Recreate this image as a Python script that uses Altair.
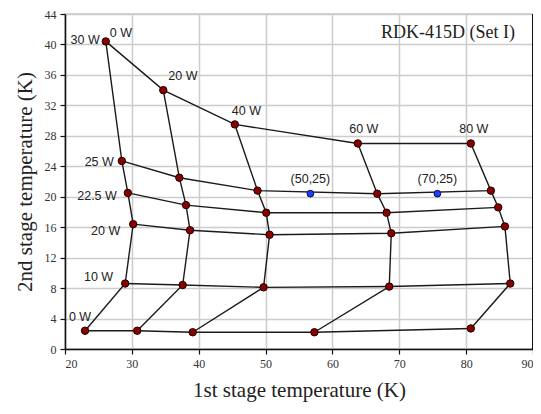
import altair as alt
import pandas as pd

# 1st stage heat loads (columns) and 2nd stage heat loads (rows)
first_loads = [0, 20, 40, 60, 80]
second_loads = [0, 10, 20, 22.5, 25, 30]

# temperatures: one list per 2nd stage load
t1_q0 = [23.0, 30.8, 39.1, 57.3, 80.7]
t2_q0 = [2.4, 2.4, 2.2, 2.2, 2.7]
t1_q10 = [29.0, 37.6, 49.7, 68.5, 86.6]
t2_q10 = [8.6, 8.4, 8.1, 8.2, 8.6]
t1_q20 = [30.2, 38.7, 50.6, 68.8, 85.8]
t2_q20 = [16.4, 15.6, 15.0, 15.2, 16.1]
t1_q225 = [29.4, 38.1, 50.1, 68.1, 84.8]
t2_q225 = [20.5, 18.9, 17.9, 17.9, 18.6]
t1_q25 = [28.5, 37.1, 48.8, 66.7, 83.7]
t2_q25 = [24.7, 22.5, 20.8, 20.4, 20.8]
t1_q30 = [26.1, 34.7, 45.4, 63.8, 80.7]
t2_q30 = [40.4, 34.0, 29.5, 27.0, 27.0]

# operating points
test_labels = ["(50,25)", "(70,25)"]
test_t1 = [56.7, 75.7]
test_t2 = [20.4, 20.4]

x_ticks = list(range(20, 95, 5))
y_ticks = list(range(0, 48, 4))

rows_t1 = [t1_q0, t1_q10, t1_q20, t1_q225, t1_q25, t1_q30]
rows_t2 = [t2_q0, t2_q10, t2_q20, t2_q225, t2_q25, t2_q30]

records = []
for q2, xs, ys in zip(second_loads, rows_t1, rows_t2):
    for q1, x, y in zip(first_loads, xs, ys):
        records.append({"q1": q1, "q2": q2, "t1": x, "t2": y})
df = pd.DataFrame(records)
df_test = pd.DataFrame({"label": test_labels, "t1": test_t1, "t2": test_t2})

SERIF = "Liberation Serif"
SANS = "Liberation Sans"
LINE = "#1a1a1a"

xs = alt.X("t1:Q", scale=alt.Scale(domain=[20, 90], nice=False, zero=False),
           axis=alt.Axis(values=x_ticks, title="1st stage temperature (K)"))
ys = alt.Y("t2:Q", scale=alt.Scale(domain=[0, 44], nice=False, zero=False),
           axis=alt.Axis(values=y_ticks, title="2nd stage temperature (K)"))

base = alt.Chart(df)

rows_lines = base.mark_line(color=LINE, strokeWidth=1.4).encode(
    x=xs, y=ys, detail="q2:N", order="q1:Q")
cols_lines = base.mark_line(color=LINE, strokeWidth=1.4).encode(
    x=xs, y=ys, detail="q1:N", order="q2:Q")

points = base.mark_point(filled=True, fill="#8b0000", stroke="#1a0000",
                         strokeWidth=1, opacity=1, size=55).encode(x=xs, y=ys)

test_pts = alt.Chart(df_test).mark_point(filled=True, fill="#1f3cff", stroke="#00104a",
                                         strokeWidth=1, opacity=1, size=45).encode(x=xs, y=ys)
test_txt = alt.Chart(df_test).mark_text(font=SANS, fontSize=12.5, color="#222",
                                        dy=-15, align="center", baseline="middle").encode(
    x=xs, y=ys, text="label:N")

border = alt.Chart(df).mark_rule(color="#111", strokeWidth=1.5).encode(x=alt.datum(90))

# labels: (text, q1, q2) ; pixel offsets are style
label_specs = [
    ("0 W", 0, 30, 4, -8, "left"),
    ("20 W", 20, 30, 5, -14, "left"),
    ("40 W", 40, 30, -3, -13, "left"),
    ("60 W", 60, 30, 6, -14, "center"),
    ("80 W", 80, 30, 3, -14, "center"),
    ("30 W", 0, 30, -6, -1, "right"),
    ("25 W", 0, 25, -8, 1, "right"),
    ("22.5 W", 0, 22.5, -11, 3, "right"),
    ("20 W", 0, 20, -13, 7, "right"),
    ("10 W", 0, 10, -12, -7, "right"),
    ("0 W", 0, 0, -5, -14, "center"),
]
label_layers = []
for text, q1, q2, dx, dy, al in label_specs:
    sub = df[(df.q1 == q1) & (df.q2 == q2)].assign(label=text)
    label_layers.append(
        alt.Chart(sub).mark_text(font=SANS, fontSize=12.5, color="#222", dx=dx, dy=dy,
                                 align=al, baseline="middle").encode(
            x=xs, y=ys, text="label:N"))

title_txt = alt.Chart(df_test.head(1)).mark_text(
    font=SERIF, fontSize=18, color="#222", align="right", baseline="middle").encode(
    x=alt.value(450), y=alt.value(19), text=alt.value("RDK-415D (Set I)"))

chart = alt.layer(rows_lines, cols_lines, border, points, test_pts, test_txt,
                  *label_layers, title_txt).properties(
    width=468, height=335,
    autosize=alt.AutoSizeParams(type="none"),
    padding={"left": 57, "top": 6, "right": 0, "bottom": 56},
).configure_view(stroke="#c8c8c8", strokeWidth=1.5).configure_axis(
    grid=True, gridColor="#cccccc", gridWidth=1.5,
    domainColor="#111", domainWidth=1.5,
    tickColor="#111", tickSize=5, tickWidth=1.2,
    labelFont=SERIF, labelFontSize=12, labelColor="#333",
    titleFont=SERIF, titleFontSize=21, titleFontWeight="normal", titleColor="#222",
).configure_axisX(labelPadding=4, titlePadding=10).configure_axisY(
    labelPadding=4, titlePadding=9)

chart.save("out.html", embed_options={"renderer": "svg", "actions": False})
